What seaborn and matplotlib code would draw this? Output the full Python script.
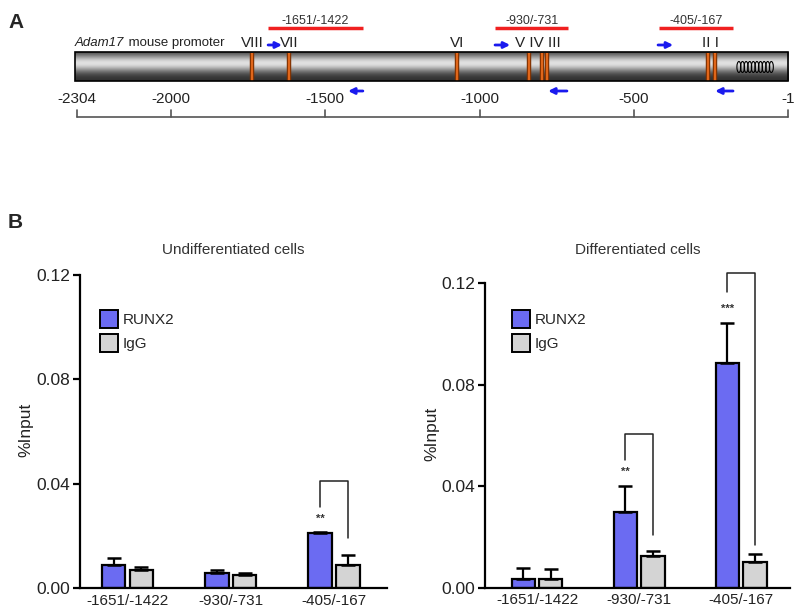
import numpy as np
import pandas as pd
import matplotlib
matplotlib.use("Agg")
import matplotlib.pyplot as plt
from matplotlib.patches import Rectangle, Ellipse
import seaborn as sns

# ---------------- data ----------------
regions = ["-1651/-1422", "-930/-731", "-405/-167"]
antibodies = ["RUNX2", "IgG"]

undiff_runx2 = [0.0088, 0.0056, 0.0210]
undiff_runx2_err = [0.0027, 0.0013, 0.0006]
undiff_igg = [0.0069, 0.0050, 0.0088]
undiff_igg_err = [0.0013, 0.0006, 0.0039]

diff_runx2 = [0.0033, 0.0300, 0.0887]
diff_runx2_err = [0.0046, 0.0101, 0.0157]
diff_igg = [0.0033, 0.0126, 0.0100]
diff_igg_err = [0.0040, 0.0020, 0.0033]

# significance brackets: (group index, left leg bottom, top, right leg bottom, stars, star y)
undiff_brackets = [(2, 0.031, 0.041, 0.019, "**", 0.0265)]
diff_brackets = [(1, 0.0503, 0.0606, 0.0208, "**", 0.0455),
                 (2, 0.1167, 0.1242, 0.0168, "***", 0.1100)]

yticks = [0.0, 0.04, 0.08, 0.12]
ytick_labels = ["0.00", "0.04", "0.08", "0.12"]

# promoter map
promoter_start, promoter_end = -2304, -1
scale_ticks = [-2304, -2000, -1500, -1000, -500, -1]
site_pos = [-1737, -1617, -1073, -840, -798, -782, -260, -237]
site_labels = ["VIII", "VII", "VI", "V IV III", "II I"]
site_label_pos = [-1737, -1617, -1073, -811, -253]
amplicon_labels = ["-1651/-1422", "-930/-731", "-405/-167"]
amplicon_start = [-1685, -950, -420]
amplicon_end = [-1378, -712, -179]
fwd_primer = [(-1685, -1640), (-950, -901), (-422, -373)]
rev_primer = [(-1378, -1426), (-717, -778), (-179, -237)]

BLUE = "#6b6bf2"
GRAY = "#d4d4d4"
FONTS = ["Liberation Sans", "DejaVu Sans"]

sns.set_theme(style="ticks")
plt.rcParams["font.family"] = FONTS

W, H = 800, 613
fig = plt.figure(figsize=(W / 100, H / 100), dpi=100)

# ---------------- panel A ----------------
a_h = 130
axA = fig.add_axes([0, 1 - a_h / H, 1, a_h / H])
ppu = 711 / 2303.0
x0 = -2304 - 77 / ppu
x1 = -2304 + (W - 77) / ppu
axA.set_xlim(x0, x1)
axA.set_ylim(a_h, 0)
axA.axis("off")

# gradient cylinder
t = np.linspace(0, 1, 200)
g = 0.18 + 0.70 * np.exp(-((t - 0.38) / 0.30) ** 2)
axA.imshow(g[:, None], cmap="gray", vmin=0, vmax=1, aspect="auto",
           extent=(promoter_start - 8, promoter_end, 81, 52), zorder=1)
axA.add_patch(Rectangle((promoter_start - 8, 52), promoter_end - promoter_start + 8, 29,
                        fill=False, edgecolor="black", lw=1.2, zorder=3))
for s in site_pos:
    axA.plot([s, s], [52.5, 80.5], color="#7a2e00", lw=3.2, zorder=2, solid_capstyle="butt")
    axA.plot([s, s], [52.5, 80.5], color="#e0661a", lw=1.6, zorder=2, solid_capstyle="butt")
for cx in np.linspace(-160, -55, 10):
    axA.add_patch(Ellipse((cx, 67), 13, 11, fill=False, edgecolor="black", lw=0.8, zorder=3))

t_it = axA.text(promoter_start - 6, 43, "Adam17", fontsize=9.5, fontstyle="italic",
                ha="left", va="center", color="#222222")
axA.annotate(" mouse promoter", xy=(1, 0.5), xycoords=t_it, fontsize=9.5,
             ha="left", va="center", color="#222222")
for lab, p in zip(site_labels, site_label_pos):
    axA.text(p, 43, lab, fontsize=11, ha="center", va="center", color="#222222")
for lab, s, e in zip(amplicon_labels, amplicon_start, amplicon_end):
    axA.plot([s, e], [28, 28], color="#f02020", lw=2.5, solid_capstyle="butt")
    axA.text((s + e) / 2, 21, lab, fontsize=9, ha="center", va="center", color="#333333")
for s, e in fwd_primer:
    axA.annotate("", xy=(e, 45), xytext=(s, 45),
                 arrowprops=dict(arrowstyle="-|>", color="#1a1aee", lw=2, mutation_scale=9,
                                 shrinkA=0, shrinkB=0))
for s, e in rev_primer:
    axA.annotate("", xy=(e, 91), xytext=(s, 91),
                 arrowprops=dict(arrowstyle="-|>", color="#1a1aee", lw=2, mutation_scale=9,
                                 shrinkA=0, shrinkB=0))
# scale bar
axA.plot([promoter_start, promoter_end], [117, 117], color="#555555", lw=1.2)
for tk in scale_ticks:
    axA.plot([tk, tk], [117, 110], color="#555555", lw=1.2)
    axA.text(tk, 99, str(tk), fontsize=11, ha="center", va="center", color="#222222")

fig.text(8 / W, 1 - 22 / H, "A", fontsize=15, fontweight="bold", ha="left", va="center")
fig.text(8 / W, 1 - 222 / H, "B", fontsize=15, fontweight="bold", ha="left", va="center")


# ---------------- panel B ----------------
def bar_panel(rect, runx2, runx2_err, igg, igg_err, title, xlim, brackets, leg_anchor,
              title_pad, ylab_x):
    ax = fig.add_axes(rect)
    df = pd.DataFrame({
        "region": regions * 2,
        "antibody": [antibodies[0]] * 3 + [antibodies[1]] * 3,
        "value": runx2 + igg,
    })
    sns.barplot(data=df, x="region", y="value", hue="antibody", order=regions,
                hue_order=antibodies, palette={"RUNX2": BLUE, "IgG": GRAY},
                width=0.54, gap=0.15, edgecolor="black", linewidth=1.6,
                errorbar=None, saturation=1, ax=ax)
    centers = []
    for cont, errs in zip(ax.containers, [runx2_err, igg_err]):
        cs = []
        for bar, e in zip(cont, errs):
            xc = bar.get_x() + bar.get_width() / 2
            cs.append(xc)
            ax.errorbar(xc, bar.get_height(), yerr=[[0], [e]], fmt="none", ecolor="black",
                        elinewidth=1.6, capsize=5, capthick=1.8, zorder=4)
        centers.append(cs)
    for gi, lb, top, rb, stars, sy in brackets:
        xl, xr = centers[0][gi], centers[1][gi]
        ax.plot([xl, xl, xr, xr], [lb, top, top, rb], color="#222222", lw=1.1,
                clip_on=False, zorder=5)
        ax.text(xl, sy, stars, fontsize=8, ha="center", va="center", color="#333333",
                fontweight="bold")
    ax.set_xlim(*xlim)
    ax.set_ylim(0, 0.12)
    ax.set_yticks(yticks)
    ax.set_yticklabels(ytick_labels)
    ax.set_xlabel("")
    ax.set_ylabel("%Input", fontsize=12.5, color="#222222")
    ax.yaxis.set_label_coords(ylab_x, 0.505)
    ax.set_title(title, fontsize=11, color="#333333", pad=title_pad)
    sns.despine(ax=ax)
    for sp in ("left", "bottom"):
        ax.spines[sp].set_linewidth(1.6)
        ax.spines[sp].set_color("black")
    ax.tick_params(axis="y", length=5, width=1.6, labelsize=12.5, pad=2, colors="black",
                   labelcolor="#222222")
    ax.tick_params(axis="x", length=0, labelsize=11, pad=4, labelcolor="#222222")
    leg = ax.legend(loc="upper left", bbox_to_anchor=leg_anchor, frameon=False,
                    fontsize=11, handlelength=1.18, handleheight=1.44, labelspacing=0.4,
                    handletextpad=0.3, borderpad=0, borderaxespad=0)
    for h in leg.legend_handles:
        h.set_edgecolor("black")
        h.set_linewidth(1.4)
    return ax


bar_panel([80 / W, 25 / H, 307 / W, 313 / H], undiff_runx2, undiff_runx2_err, undiff_igg,
          undiff_igg_err, "Undifferentiated cells", (-0.461, 2.515), undiff_brackets,
          (0.065, 0.888), 15, -0.153)
bar_panel([485 / W, 25.3 / H, 305 / W, 304.4 / H], diff_runx2, diff_runx2_err, diff_igg,
          diff_igg_err, "Differentiated cells", (-0.51, 2.48), diff_brackets,
          (0.0885, 0.912), 21, -0.148)

fig.savefig("out.png", dpi=100)
